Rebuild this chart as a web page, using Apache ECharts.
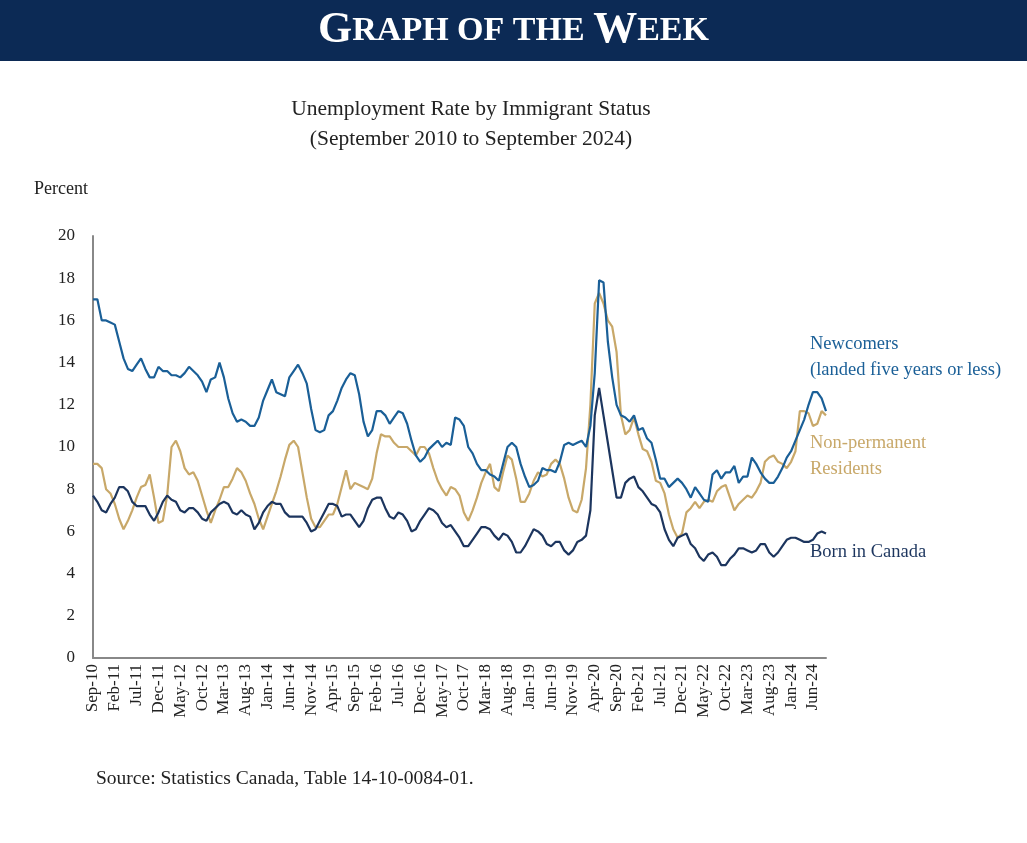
<!DOCTYPE html>
<html>
<head>
<meta charset="utf-8">
<script src="https://cdn.jsdelivr.net/npm/echarts@6/dist/echarts.min.js"></script>
<style>html,body{margin:0;padding:0;background:#fff}#chart{width:1027px;height:843px}</style>
</head>
<body>
<div id="chart"></div>
<script>
// monthly values, Sep 2010 .. Sep 2024
var newcomers = [
  17.0,17.0,16.0,16.0,
  15.9,15.8,15.0,14.2,13.7,13.6,13.9,14.2,13.7,13.3,13.3,13.8,
  13.6,13.6,13.4,13.4,13.3,13.5,13.8,13.6,13.4,13.1,12.6,13.2,
  13.3,14.0,13.3,12.3,11.6,11.2,11.3,11.2,11.0,11.0,11.4,12.2,
  12.7,13.2,12.6,12.5,12.4,13.3,13.6,13.9,13.5,13.0,11.8,10.8,
  10.7,10.8,11.5,11.7,12.2,12.8,13.2,13.5,13.4,12.5,11.2,10.5,
  10.8,11.7,11.7,11.5,11.1,11.4,11.7,11.6,11.1,10.3,9.6,9.3,
  9.5,9.9,10.1,10.3,10.0,10.2,10.1,11.4,11.3,11.0,10.0,9.7,
  9.2,8.9,8.9,8.7,8.6,8.4,9.2,10.0,10.2,10.0,9.2,8.6,
  8.1,8.2,8.4,9.0,8.9,8.9,8.8,9.3,10.1,10.2,10.1,10.2,
  10.3,10.0,11.0,13.5,17.9,17.8,15.0,13.3,12.0,11.5,11.4,11.2,
  11.5,10.8,10.9,10.4,10.2,9.4,8.5,8.5,8.1,8.3,8.5,8.3,
  8.0,7.6,8.1,7.8,7.5,7.4,8.7,8.9,8.5,8.8,8.8,9.1,
  8.3,8.6,8.6,9.5,9.2,8.8,8.5,8.3,8.3,8.6,9.0,9.5,
  9.8,10.3,10.8,11.3,12.0,12.6,12.6,12.3,11.7
];
var nonPermanent = [
  9.2,9.2,9.0,8.0,
  7.8,7.3,6.6,6.1,6.5,7.0,7.6,8.1,8.2,8.7,7.6,6.4,
  6.5,7.7,10.0,10.3,9.8,9.0,8.7,8.8,8.4,7.7,7.0,6.4,
  7.0,7.5,8.1,8.1,8.5,9.0,8.8,8.4,7.8,7.3,6.6,6.1,
  6.7,7.3,7.9,8.6,9.4,10.1,10.3,10.0,8.8,7.6,6.6,6.2,
  6.2,6.5,6.8,6.8,7.3,8.1,8.9,8.0,8.3,8.2,8.1,8.0,
  8.5,9.7,10.6,10.5,10.5,10.2,10.0,10.0,10.0,9.8,9.6,10.0,
  10.0,9.7,9.0,8.4,8.0,7.7,8.1,8.0,7.7,6.9,6.5,7.0,
  7.6,8.3,8.8,9.2,8.1,7.9,8.8,9.6,9.4,8.5,7.4,7.4,
  7.8,8.4,8.8,8.6,8.7,9.2,9.4,9.2,8.5,7.6,7.0,6.9,
  7.5,9.0,12.0,16.8,17.3,16.8,16.0,15.7,14.5,11.5,10.6,10.8,
  11.4,10.6,9.9,9.8,9.3,8.4,8.3,7.8,6.8,6.1,5.7,5.9,
  6.9,7.1,7.4,7.1,7.4,7.5,7.4,7.9,8.1,8.2,7.6,7.0,
  7.3,7.5,7.7,7.6,7.9,8.3,9.3,9.5,9.6,9.3,9.2,9.0,
  9.3,9.8,11.7,11.7,11.6,11.0,11.1,11.7,11.5
];
var bornInCanada = [
  7.7,7.4,7.0,6.9,
  7.3,7.6,8.1,8.1,7.9,7.4,7.2,7.2,7.2,6.8,6.5,6.9,
  7.4,7.7,7.5,7.4,7.0,6.9,7.1,7.1,6.9,6.6,6.5,6.9,
  7.1,7.3,7.4,7.3,6.9,6.8,7.0,6.8,6.7,6.1,6.4,6.9,
  7.2,7.4,7.3,7.3,6.9,6.7,6.7,6.7,6.7,6.4,6.0,6.1,
  6.5,6.9,7.3,7.3,7.2,6.7,6.8,6.8,6.5,6.2,6.5,7.1,
  7.5,7.6,7.6,7.1,6.7,6.6,6.9,6.8,6.5,6.0,6.1,6.5,
  6.8,7.1,7.0,6.8,6.4,6.2,6.3,6.0,5.7,5.3,5.3,5.6,
  5.9,6.2,6.2,6.1,5.8,5.6,5.9,5.8,5.5,5.0,5.0,5.3,
  5.7,6.1,6.0,5.8,5.4,5.3,5.5,5.5,5.1,4.9,5.1,5.5,
  5.6,5.8,7.0,11.5,12.8,11.5,10.2,8.9,7.6,7.6,8.3,8.5,
  8.6,8.1,7.9,7.6,7.3,7.2,6.9,6.1,5.6,5.3,5.7,5.8,
  5.9,5.4,5.2,4.8,4.6,4.9,5.0,4.8,4.4,4.4,4.7,4.9,
  5.2,5.2,5.1,5.0,5.1,5.4,5.4,5.0,4.8,5.0,5.3,5.6,
  5.7,5.7,5.6,5.5,5.5,5.6,5.9,6.0,5.9
];
var monthNames = ['Jan','Feb','Mar','Apr','May','Jun','Jul','Aug','Sep','Oct','Nov','Dec'];
var months = [];
for (var i = 0; i < newcomers.length; i++) {
  var m = (8 + i) % 12, y = 10 + Math.floor((8 + i) / 12);
  months.push(monthNames[m] + '-' + y);
}

var serif = 'Liberation Serif';
var navy = '#1c355e', blue = '#1a5f97', gold = '#c8a869';
var chart = echarts.init(document.getElementById('chart'));
chart.setOption({
  animation: false,
  textStyle: {fontFamily: serif},
  graphic: [
    {type: 'rect', shape: {x: 0, y: 0, width: 1027, height: 61}, style: {fill: '#0c2a55'}},
    {type: 'text', left: 'center', top: 9, style: {
      text: '{b|G}{s|RAPH OF THE }{b|W}{s|EEK}', fill: '#fff',
      rich: {b: {fontFamily: serif, fontSize: 44, fontWeight: 'bold', fill: '#fff'},
             s: {fontFamily: serif, fontSize: 34, fontWeight: 'bold', fill: '#fff'}}}},
    {type: 'text', x: 471, y: 98, style: {text: 'Unemployment Rate by Immigrant Status', font: '21.5px "Liberation Serif"', fill: '#222', align: 'center'}},
    {type: 'text', x: 471, y: 128, style: {text: '(September 2010 to September 2024)', font: '21.5px "Liberation Serif"', fill: '#222', align: 'center'}},
    {type: 'text', left: 34, top: 180, style: {text: 'Percent', font: '18px "Liberation Serif"', fill: '#222'}},
    {type: 'text', left: 96, top: 769, style: {text: 'Source: Statistics Canada, Table 14-10-0084-01.', font: '19.5px "Liberation Serif"', fill: '#222'}},
    {type: 'text', left: 810, top: 331, style: {text: 'Newcomers\n(landed five years or less)', font: '18.5px "Liberation Serif"', fill: blue, lineHeight: 26}},
    {type: 'text', left: 810, top: 430, style: {text: 'Non-permanent\nResidents', font: '18.5px "Liberation Serif"', fill: gold, lineHeight: 26}},
    {type: 'text', left: 810, top: 543, style: {text: 'Born in Canada', font: '18.5px "Liberation Serif"', fill: navy}}
  ],
  grid: {left: 93, right: 201, top: 236, bottom: 185},
  xAxis: {
    type: 'category', data: months, boundaryGap: false,
    axisLine: {lineStyle: {color: '#888', width: 2}},
    axisTick: {show: false},
    axisLabel: {interval: 4, rotate: 90, color: '#222', fontFamily: serif, fontSize: 17, margin: 6}
  },
  yAxis: {
    type: 'value', min: 0, max: 20, interval: 2,
    axisLine: {show: true, lineStyle: {color: '#888', width: 2}},
    axisTick: {show: false}, splitLine: {show: false},
    axisLabel: {color: '#222', fontFamily: serif, fontSize: 17, margin: 18}
  },
  series: [
    {name: 'Non-permanent Residents', type: 'line', data: nonPermanent, symbol: 'none', lineStyle: {color: gold, width: 2.2}},
    {name: 'Born in Canada', type: 'line', data: bornInCanada, symbol: 'none', lineStyle: {color: navy, width: 2.2}},
    {name: 'Newcomers', type: 'line', data: newcomers, symbol: 'none', lineStyle: {color: blue, width: 2.2}}
  ]
});
</script>
</body>
</html>
